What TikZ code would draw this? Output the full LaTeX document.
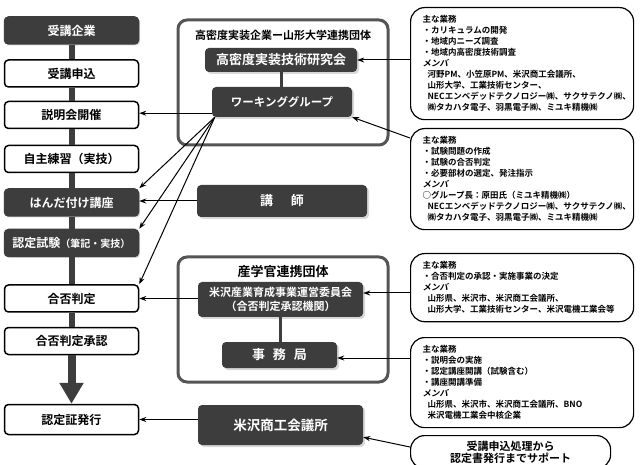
\documentclass[tikz,border=0pt]{standalone}
\usepackage{fontspec}
\setmainfont{Noto Sans CJK JP}[BoldFont={* Bold}]
\usetikzlibrary{arrows.meta, shadows}

\definecolor{boxgray}{HTML}{3D3D3D}
\definecolor{framegray}{HTML}{555555}

\newcommand{\indline}{\hspace*{5pt}}
\newcommand{\slanthead}[1]{{\addfontfeature{FakeSlant=0.2}#1}}

\tikzset{
	flowbox/.style={draw, line width=1.5pt, rounded corners=4pt, fill=white,
		minimum width=134pt, minimum height=27pt, inner sep=0pt,
		font=\bfseries\fontsize{12}{14}\selectfont},
	darkflow/.style={flowbox, draw=boxgray, fill=boxgray, text=white,
		drop shadow={shadow xshift=1.5pt, shadow yshift=-1.5pt, fill=black!30}},
	orgbox/.style={fill=boxgray, text=white, rounded corners=4pt, inner sep=0pt,
		font=\bfseries\fontsize{13}{15}\selectfont,
		drop shadow={shadow xshift=2pt, shadow yshift=-2pt, fill=black!30}},
	groupframe/.style={draw=framegray, line width=3pt, rounded corners=9pt},
	notebox/.style={draw, line width=1.2pt, rounded corners=14pt, fill=white,
		anchor=north west, text width=199pt, inner xsep=12pt, inner ysep=8pt,
		align=left, font=\bfseries\fontsize{8.5}{11}\selectfont},
	link/.style={line width=1pt, -{Stealth[length=7pt, width=5pt]}},
	spine/.style={line width=6pt, draw=boxgray},
	tie/.style={line width=3pt, draw=boxgray},
}

\begin{document}
\begin{tikzpicture}[x=1pt, y=-1pt]
	\clip (0,0) rectangle (643,465);
	\fill[white] (0,0) rectangle (643,465);

	% flow of a trainee
	\begin{scope}
		\node[darkflow] (corp) at (71.5,30.5) {受講企業};
		\node[flowbox] (apply) at (71.5,73.5) {受講申込};
		\node[flowbox] (brief) at (71.5,115) {説明会開催};
		\node[flowbox] (practice) at (71.5,159) {自主練習（実技）};
		\node[darkflow] (course) at (71.5,202.5) {はんだ付け講座};
		\node[darkflow] (exam) at (71.5,243) {認定試験{\fontsize{10}{12}\selectfont（筆記・実技）}};
		\node[flowbox] (judge) at (71.5,298.5) {合否判定};
		\node[flowbox] (approve) at (71.5,341) {合否判定承認};
		\node[flowbox, minimum height=30pt] (issue) at (71.5,419.5) {認定証発行};

		\draw[spine] (corp.south) -- (apply.north);
		\draw[spine] (apply.south) -- (brief.north);
		\draw[spine] (brief.south) -- (practice.north);
		\draw[spine] (practice.south) -- (course.north);
		\draw[spine] (course.south) -- (exam.north);
		\draw[spine] (exam.south) -- (judge.north);
		\draw[spine] (judge.south) -- (approve.north);
		\draw[line width=8pt, boxgray, -{Triangle[length=21pt, width=23pt]}] (approve.south) -- (issue.north);
	\end{scope}

	% bodies in the middle
	\begin{scope}
		\draw[groupframe] (178,20) rectangle (388,145);
		\node[font=\bfseries\fontsize{11}{13}\selectfont] (grpA) at (283,35) {高密度実装企業ー山形大学連携団体};
		\node[orgbox, minimum width=152pt, minimum height=24pt] (lab) at (281,60) {高密度実装技術研究会};
		\node[orgbox, minimum width=140pt, minimum height=30pt, font=\bfseries\fontsize{11.5}{14}\selectfont] (wg) at (282,102) {ワーキンググループ};
		\draw[tie] (lab.south) -- (lab.south |- wg.north);

		\node[orgbox, minimum width=170pt, minimum height=32pt] (lect) at (282,201) {講\hspace{18pt}師};

		\draw[groupframe] (178,257) rectangle (388,382);
		\node[font=\bfseries\fontsize{13}{15}\selectfont] (grpB) at (283,272) {産学官連携団体};
		\node[orgbox, minimum width=165pt, minimum height=35pt, align=center, font=\bfseries\fontsize{11}{14}\selectfont] (board) at (280.5,299.5) {米沢産業育成事業運営委員会\\（合否判定承認機関）};
		\node[orgbox, minimum width=115pt, minimum height=26pt] (office) at (279.5,355) {事\hspace{8pt}務\hspace{8pt}局};
		\draw[tie] (board.south) -- (board.south |- office.north);

		\node[orgbox, minimum width=165pt, minimum height=40pt, font=\bfseries\fontsize{13.5}{16}\selectfont] (cci) at (280.5,425) {米沢商工会議所};
	\end{scope}

	% notes on the right
	\begin{scope}
		\node[notebox] (noteA) at (410,7) {主な業務\\
			・カリキュラムの開発\\
			・地域内ニーズ調査\\
			・地域内高密度技術調査\\
			\slanthead{メンバ}\\
			\indline 河野PM、小笠原PM、米沢商工会議所、\\
			\indline 山形大学、工業技術センター、\\
			\indline NECエンベデッドテクノロジー㈱、サクサテクノ㈱、\\
			\indline ㈱タカハタ電子、羽黒電子㈱、ミユキ精機㈱};
		\node[notebox] (noteB) at (410,128) {主な業務\\
			・試験問題の作成\\
			・試験の合否判定\\
			・必要部材の選定、発注指示\\
			\slanthead{メンバ}\\
			○グループ長：原田氏（ミユキ精機㈱）\\
			\indline NECエンベデッドテクノロジー㈱、サクサテクノ㈱、\\
			\indline ㈱タカハタ電子、羽黒電子㈱、ミユキ精機㈱};
		\node[notebox] (noteC) at (410,253) {主な業務\\
			・合否判定の承認・実施事業の決定\\
			\slanthead{メンバ}\\
			\indline 山形県、米沢市、米沢商工会議所、\\
			\indline 山形大学、工業技術センター、米沢電機工業会等};
		\node[notebox] (noteD) at (410,337) {主な業務\\
			・説明会の実施\\
			・認定講座開講（試験含む）\\
			・講座開講準備\\
			\slanthead{メンバ}\\
			\indline 山形県、米沢市、米沢商工会議所、BNO\\
			\indline 米沢電機工業会中核企業};
		\node[draw, line width=1.2pt, rounded corners=14pt, fill=white, anchor=north west,
			minimum width=200pt, minimum height=33pt, align=center,
			font=\bfseries\fontsize{11}{12}\selectfont] (noteE) at (410,435) {受講申込処理から\\認定書発行までサポート};
	\end{scope}

	% connectors
	\begin{scope}
		\draw[link] ([yshift=4pt]wg.south west) -- ([yshift=4pt]wg.south west -| brief.east);
		\draw[link] ([xshift=3pt]wg.south west) -- (course.north east);
		\draw[link] ([xshift=3pt]wg.south west) -- (exam.north east);
		\draw[link] ([xshift=3pt]wg.south west) -- (judge.north east);
		\draw[link] (lect.west) -- (lect.west -| course.east);
		\draw[link] (judge.east -| board.west) -- (judge.east);
		\draw[link] (issue.east -| cci.west) -- (issue.east);

		\draw[link] (lab.east -| noteA.west) -- (lab.east);
		\draw[link] ([yshift=-10pt]noteB.north west) -- (wg.south east);
		\draw[link] ([yshift=6.5pt]board.east -| noteC.west) -- ([yshift=6.5pt]board.east);
		\draw[link] ([yshift=-3pt]office.east -| noteD.west) -- ([yshift=-3pt]office.east);
		\draw[link] ([yshift=-12pt]noteE.north west) -- ([yshift=8pt]cci.south east);
	\end{scope}
\end{tikzpicture}
\end{document}
